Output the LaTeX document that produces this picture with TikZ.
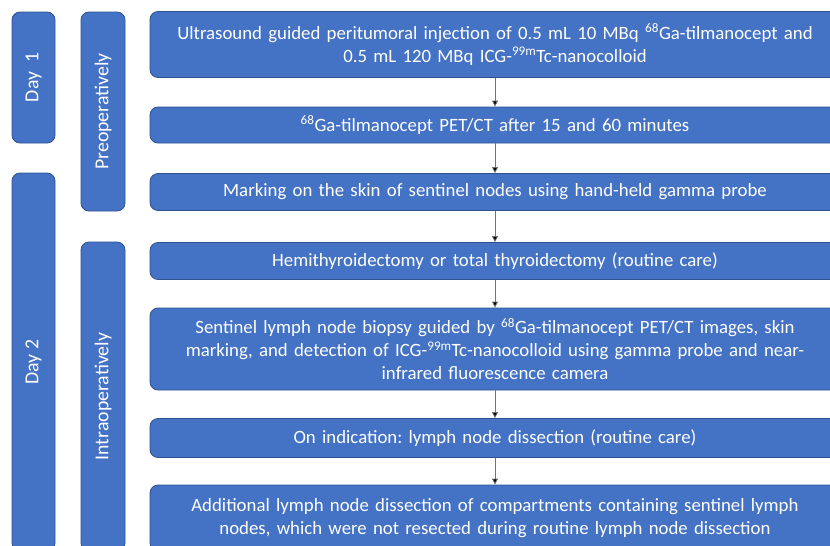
\documentclass[tikz,border=0pt]{standalone}
\usepackage{fontspec}
\setmainfont{Carlito}
\usetikzlibrary{arrows.meta}
\definecolor{boxblue}{HTML}{4472C4}
\definecolor{edgeblue}{HTML}{2F528F}
\frenchspacing

\begin{document}
\begin{tikzpicture}[x=1pt,y=-1pt,
    stepbox/.style={draw=edgeblue, fill=boxblue, rounded corners=8pt, line width=0.8pt,
      text=white, align=center, text width=670pt, inner xsep=10pt, inner ysep=0pt,
      font=\fontsize{18.8}{23}\selectfont},
    sidebar/.style={draw=edgeblue, fill=boxblue, rounded corners=8pt, line width=0.8pt,
      text=white, rotate=90, inner sep=0pt, font=\fontsize{19.8}{22}\selectfont},
    flow/.style={draw=black!55, line width=0.8pt, -{Triangle[length=6pt,width=6pt,fill=black]}}]
        \useasboundingbox (0,0) rectangle (830,546);
        \clip (0,0) rectangle (830,546);
        % time and phase bars
        \node [sidebar, minimum width=131pt, minimum height=43pt] (day1) at (33.5,77.5) {Day\ \ 1};
        \node [sidebar, minimum width=378pt, minimum height=43pt] (day2) at (33.5,362) {Day 2};
        \node [sidebar, minimum width=199pt, minimum height=44pt] (preop) at (103,111.5) {Preoperatively};
        \node [sidebar, minimum width=309pt, minimum height=44pt] (intraop) at (103,396.5) {Intraoperatively};
        % steps
        \node [stepbox, minimum height=66pt] (inject) at (495,44.5)
            {Ultrasound guided peritumoral injection of 0.5 mL 10 MBq \textsuperscript{68}Ga-tilmanocept and\\
             0.5 mL 120 MBq ICG-\textsuperscript{99m}Tc-nanocolloid};
        \node [stepbox, minimum height=36pt] (petct) at (495,125)
            {\textsuperscript{68}Ga-tilmanocept PET/CT after 15 and 60 minutes};
        \node [stepbox, minimum height=37pt] (marking) at (495,192)
            {Marking on the skin of sentinel nodes using hand-held gamma probe};
        \node [stepbox, minimum height=37pt] (thyroid) at (495,261)
            {Hemithyroidectomy or total thyroidectomy (routine care)};
        \node [stepbox, minimum height=82pt] (biopsy) at (495,349)
            {Sentinel lymph node biopsy guided by \textsuperscript{68}Ga-tilmanocept PET/CT images, skin\\
             marking, and detection of ICG-\textsuperscript{99m}Tc-nanocolloid using gamma probe and near-\\
             infrared fluorescence camera};
        \node [stepbox, minimum height=39pt] (dissect) at (495,438)
            {On indication: lymph node dissection (routine care)};
        \node [stepbox, minimum height=66pt] (extra) at (495,518)
            {Additional lymph node dissection of compartments containing sentinel lymph\\
             nodes, which were not resected during routine lymph node dissection};
        % arrows
        \draw [flow] (inject) -- (petct);
        \draw [flow] (petct) -- (marking);
        \draw [flow] (marking) -- (thyroid);
        \draw [flow] (thyroid) -- (biopsy);
        \draw [flow] (biopsy) -- (dissect);
        \draw [flow] (dissect) -- (extra);
\end{tikzpicture}
\end{document}
